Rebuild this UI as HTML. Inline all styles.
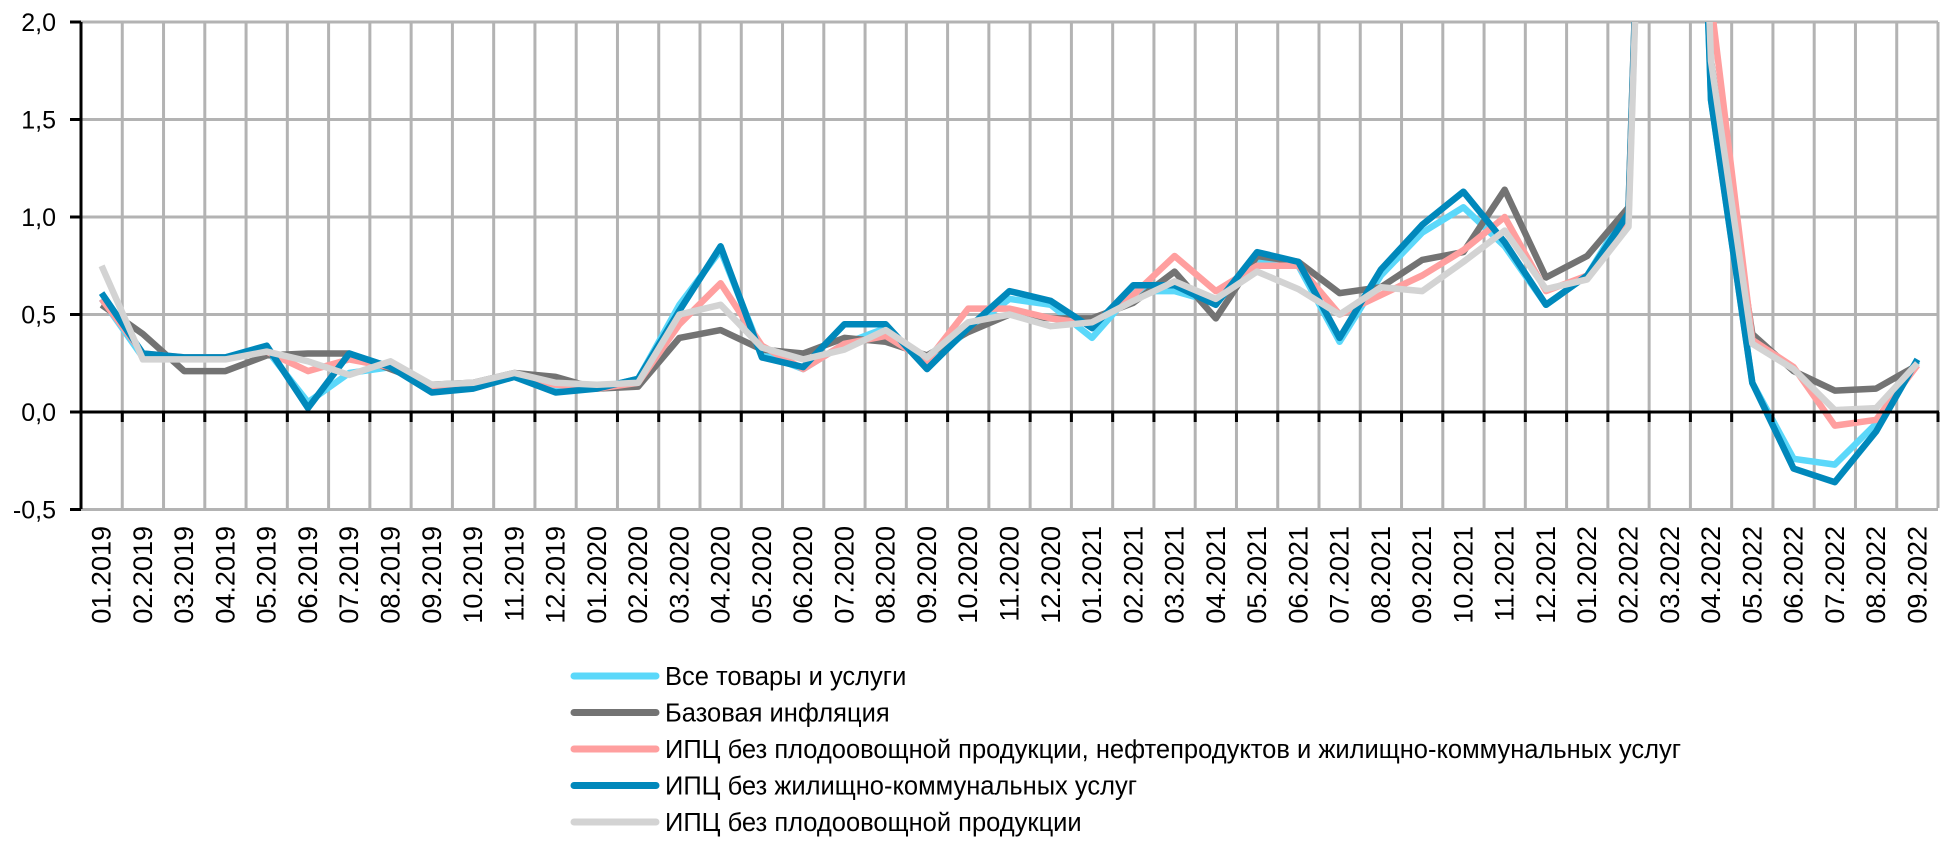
<!DOCTYPE html>
<html><head><meta charset="utf-8"><style>
html,body{margin:0;padding:0;background:#fff;}
svg{display:block;font-family:"Liberation Sans",sans-serif;}
</style></head><body>
<svg id="c" width="1959" height="850" xmlns="http://www.w3.org/2000/svg"></svg>
<script>
const s=document.getElementById('c');
const L=81,R=1938,N=45,W=(R-L)/N;
const T=22,Z=412,B=508;
const Y=v=>Z-v*(Z-T)/2;
let h=`<defs><clipPath id="cp"><rect x="81" y="${T}" width="${R-L}" height="${B-T}"/></clipPath></defs>`;
for(let i=1;i<=N;i++){const x=L+W*i;h+=`<line x1="${x}" y1="${T}" x2="${x}" y2="${B}" stroke="#b3b3b3" stroke-width="3"/>`;}
[2,1.5,1,0.5,-0.5].forEach(v=>{h+=`<line x1="81" y1="${Y(v)}" x2="${R}" y2="${Y(v)}" stroke="#b3b3b3" stroke-width="3"/>`;});
const series=[
['#5bd8fa',[0.58,0.28,0.28,0.28,0.32,0.05,0.20,0.23,0.11,0.13,0.18,0.12,0.12,0.17,0.55,0.83,0.30,0.22,0.35,0.43,0.24,0.42,0.58,0.55,0.38,0.62,0.62,0.56,0.77,0.75,0.36,0.70,0.92,1.05,0.85,0.55,0.70,1.05,7.6,1.6,0.15,-0.24,-0.27,-0.06,0.26]],
['#737373',[0.55,0.40,0.21,0.21,0.29,0.30,0.30,0.22,0.14,0.15,0.20,0.18,0.12,0.13,0.38,0.42,0.32,0.30,0.38,0.36,0.29,0.41,0.50,0.48,0.48,0.56,0.72,0.48,0.80,0.77,0.61,0.64,0.78,0.82,1.14,0.69,0.80,1.05,7.6,1.8,0.40,0.21,0.11,0.12,0.24]],
['#ff9f9f',[0.58,0.30,0.28,0.28,0.31,0.21,0.27,0.23,0.12,0.14,0.18,0.14,0.12,0.15,0.45,0.66,0.34,0.22,0.35,0.39,0.26,0.53,0.53,0.48,0.45,0.60,0.80,0.62,0.75,0.75,0.50,0.60,0.70,0.83,1.00,0.62,0.70,1.0,7.6,2.1,0.37,0.23,-0.07,-0.04,0.24]],
['#0088bb',[0.61,0.30,0.28,0.28,0.34,0.02,0.30,0.23,0.10,0.12,0.18,0.10,0.12,0.17,0.52,0.85,0.28,0.23,0.45,0.45,0.22,0.43,0.62,0.57,0.43,0.65,0.65,0.55,0.82,0.77,0.38,0.73,0.96,1.13,0.87,0.55,0.70,1.02,7.6,1.6,0.15,-0.29,-0.36,-0.10,0.27]],
['#d3d3d3',[0.75,0.27,0.27,0.27,0.31,0.26,0.19,0.26,0.14,0.15,0.20,0.15,0.14,0.15,0.50,0.55,0.33,0.27,0.32,0.42,0.28,0.46,0.50,0.44,0.46,0.57,0.67,0.58,0.72,0.63,0.50,0.64,0.62,0.77,0.93,0.63,0.68,0.95,7.6,1.8,0.35,0.22,0.01,0.02,0.25]]];
h+='<g clip-path="url(#cp)">';
series.forEach(([c,d])=>{h+=`<polyline fill="none" stroke="${c}" stroke-width="6.5" stroke-linejoin="round" points="${d.map((v,i)=>(L+W*(i+0.5)).toFixed(1)+','+Y(v).toFixed(1)).join(' ')}"/>`;});
h+='</g>';
h+=`<line x1="81" y1="${T}" x2="81" y2="${B+1}" stroke="#000" stroke-width="3"/>`;
h+=`<line x1="70" y1="${Z}" x2="${R+1}" y2="${Z}" stroke="#000" stroke-width="3"/>`;
[2,1.5,1,0.5,0,-0.5].forEach(v=>{h+=`<line x1="70" y1="${Y(v)}" x2="81" y2="${Y(v)}" stroke="#000" stroke-width="3"/>`;
h+=`<text x="56" y="${Y(v)+9}" text-anchor="end" font-size="25">${v.toFixed(1).replace('.',',')}</text>`;});
for(let i=1;i<=N;i++){const x=L+W*i;h+=`<line x1="${x}" y1="${Z}" x2="${x}" y2="${Z+10}" stroke="#000" stroke-width="3"/>`;}
for(let i=0;i<N;i++){const m=i%12+1,y=2019+Math.floor(i/12);const x=L+W*(i+0.5)+9;
h+=`<text transform="translate(${x.toFixed(1)},526) rotate(-90)" text-anchor="end" font-size="27">${String(m).padStart(2,'0')}.${y}</text>`;}
const names=['Все товары и услуги','Базовая инфляция','ИПЦ без плодоовощной продукции, нефтепродуктов и жилищно-коммунальных услуг','ИПЦ без жилищно-коммунальных услуг','ИПЦ без плодоовощной продукции'];
names.forEach((n,i)=>{const y=676+36.5*i;h+=`<line x1="574" y1="${y}" x2="656" y2="${y}" stroke="${series[i][0]}" stroke-width="7" stroke-linecap="round"/>`;
h+=`<text x="665" y="${y+9}" font-size="25.5">${n}</text>`;});
s.innerHTML=h;
</script>
</body></html>
